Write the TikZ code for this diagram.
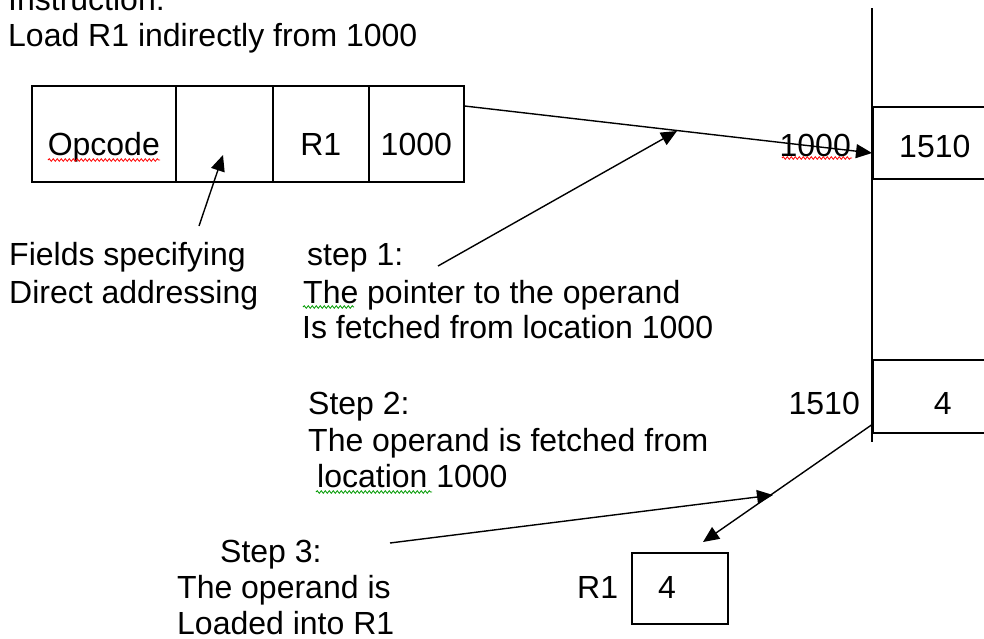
\documentclass[tikz,border=0pt]{standalone}
\usepackage{fontspec}
\setmainfont{Liberation Sans}
\usetikzlibrary{arrows.meta,decorations.pathmorphing,calc}
\begin{document}
\fontsize{32}{36}\selectfont
\begin{tikzpicture}[x=1pt,y=-1pt,
  lbl/.style={anchor=base west, inner sep=0pt},
  lble/.style={anchor=base east, inner sep=0pt},
  ln/.style={line width=1.6pt, black},
  cell/.style={draw, ln, inner xsep=0pt, inner ysep=0pt, anchor=north west,
    text height=70pt, text depth=26pt},
  memcell/.style={draw, ln, inner xsep=0pt, inner ysep=0pt, anchor=north west},
  arr/.style={ln, line width=1.4pt, -{Triangle[length=16pt,width=14pt]}},
  squig/.style={draw=#1, line width=0.8pt, decorate,
    decoration={snake, segment length=4pt, amplitude=1.3pt}}
]
\useasboundingbox (0,0) rectangle (984,638);

% heading
\node[lbl] (instr1) at (8,10) {Instruction:};
\node[lbl] (instr2) at (8,46) {Load R1 indirectly from 1000};

% instruction word
\node[cell, minimum width=144pt] (c1) at (31,85) {Opcode};
\node[cell, minimum width=97pt]  (c2) at (175,85) {};
\node[cell, minimum width=96pt]  (c3) at (272,85) {R1};
\node[cell, minimum width=95pt]  (c4) at (368,85) {1000};

% memory column
\coordinate (colTop) at (872,8);
\coordinate (colBot) at (872,442);
\draw[ln] (colTop) -- (colBot);
\node[memcell, minimum width=124pt, text height=51pt, text depth=21pt] (m1) at (872,106) {1510};
\node[memcell, minimum width=140pt, text height=55pt, text depth=18pt] (m2) at (872,359) {4};
\node[lble] (addr1) at (851,156) {1000};
\node[lble] (addr2) at (860,414) {1510};

% register R1
\node[draw, ln, minimum width=96pt, minimum height=71pt, anchor=north west, inner sep=0pt] (r1box) at (631,552) {};
\node[anchor=base, inner sep=0pt] (r1val) at (667,598) {4};
\node[lbl] (r1lbl) at (577,598) {R1};

% explanatory texts
\node[lbl] (f1) at (9,265) {Fields specifying};
\node[lbl] (f2) at (9,303) {Direct addressing};
\node[lbl] (s1a) at (307,265) {step 1:};
\node[lbl] (s1b) at (303,303) {The pointer to the operand};
\node[lbl] (s1c) at (302,338) {Is fetched from location 1000};
\node[lbl] (s2a) at (308,414) {Step 2:};
\node[lbl] (s2b) at (308,451) {The operand is fetched from};
\node[lbl] (s2c) at (317,487) {location 1000};
\node[lbl] (s3a) at (220,562) {Step 3:};
\node[lbl] (s3b) at (177,598) {The operand is};
\node[lbl] (s3c) at (177,634) {Loaded into R1};

% spelling squiggles
\draw[squig=red] (48,160) -- (160,160);
\draw[squig=red] (782,158) -- (852,158);
\draw[squig={green!60!black}] (303,307) -- (354,307);
\draw[squig={green!60!black}] (316,492) -- (432,492);

% arrows
\draw[arr] ($(c4.north east)+(0,21)$) -- ($(m1.north west)+(0,47)$);
\coordinate (fs) at (199,226);
\coordinate (ft) at (223,155);
\draw[arr] (fs) -- (ft);
\coordinate (p1s) at (438,266);
\coordinate (p1t) at (677,131);
\draw[arr] (p1s) -- (p1t);
\coordinate (p3s) at (390,543);
\coordinate (p3t) at (773,495);
\draw[arr] (p3s) -- (p3t);
\draw[arr] ($(m2.south west)+(0,-9)$) -- ($(r1box.north west)+(72,-10)$);
\end{tikzpicture}
\end{document}
